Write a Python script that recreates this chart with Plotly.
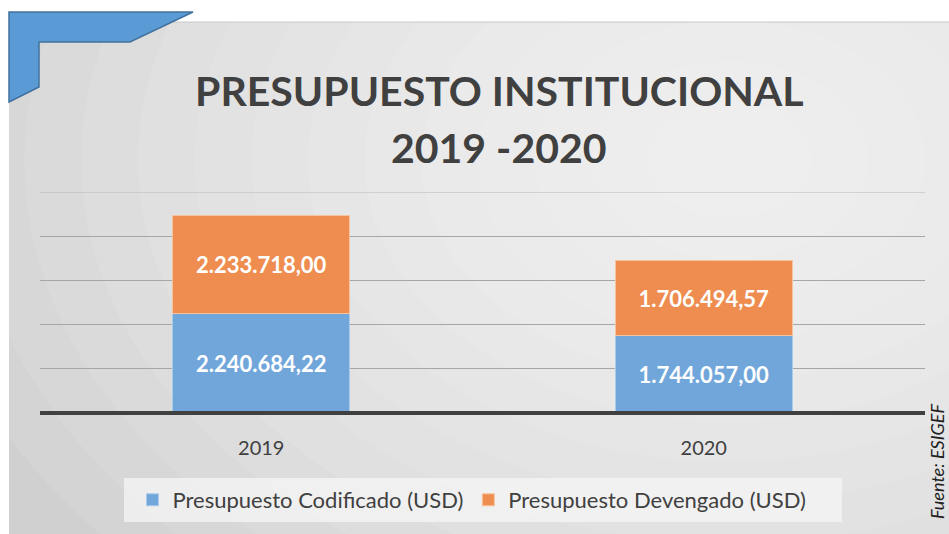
import plotly.graph_objects as go

years = ["2019", "2020"]
codificado = [2240684.22, 1744057.00]
devengado = [2233718.00, 1706494.57]
series_names = ["Presupuesto Codificado (USD)", "Presupuesto Devengado (USD)"]
y_ticks = [0, 1000000, 2000000, 3000000, 4000000, 5000000]
title_lines = ["PRESUPUESTO INSTITUCIONAL", "2019 -2020"]
source_text = "Fuente: ESIGEF"

W, H = 949, 534
L, R, T, B = 40, 925, 192, 413


def fmt_es(v):
    s = f"{v:,.2f}"
    return s.replace(",", "X").replace(".", ",").replace("X", ".")


def px(x):
    return (x - L) / (R - L)


def py(y):
    return (B - y) / (B - T)


FONT = "Lato, 'Open Sans', sans-serif"

fig = go.Figure()
fig.add_trace(go.Bar(
    x=years, y=codificado, name=series_names[0],
    marker=dict(color="#70a6da", line=dict(color="#a9cbec", width=1)),
    text=[fmt_es(v) for v in codificado], textposition="inside",
    insidetextanchor="middle",
    textfont=dict(family=FONT, size=22, color="white", weight="bold"),
))
fig.add_trace(go.Bar(
    x=years, y=devengado, name=series_names[1],
    marker=dict(color="#ee8d4f", line=dict(color="#f6c3a0", width=1)),
    text=[fmt_es(v) for v in devengado], textposition="inside",
    insidetextanchor="middle",
    textfont=dict(family=FONT, size=22, color="white", weight="bold"),
))

shapes = []
# gray card background
shapes.append(dict(type="rect", xref="paper", yref="paper",
                   x0=px(9), x1=px(W + 5), y0=py(22), y1=py(H + 5),
                   fillcolor="#d0d0d0", line=dict(width=0), layer="below"))
# radial gradient approximation
cx, cy = 730, 160
for i in range(14):
    r = 780 - i * 54
    shapes.append(dict(type="circle", xref="paper", yref="paper",
                       x0=px(cx - r * 1.05), x1=px(cx + r * 1.05),
                       y0=py(cy + r * 0.75), y1=py(cy - r * 0.75),
                       fillcolor="white", opacity=0.09, line=dict(width=0),
                       layer="below"))
# top border line
shapes.append(dict(type="line", xref="paper", yref="paper",
                   x0=px(9), x1=px(W), y0=py(22), y1=py(22),
                   line=dict(color="#c8c8c8", width=1)))
# legend box background
shapes.append(dict(type="rect", xref="paper", yref="paper",
                   x0=px(124), x1=px(842), y0=py(478), y1=py(522),
                   fillcolor="rgba(245,245,245,0.75)", line=dict(width=0),
                   layer="below"))
# blue corner decoration
pts = [(9, 12), (193, 12), (130, 42), (39, 42), (39, 87), (9, 102)]
path = "M " + " L ".join(f"{px(x)},{py(y)}" for x, y in pts) + " Z"
shapes.append(dict(type="path", xref="paper", yref="paper", path=path,
                   fillcolor="#5b9bd5", line=dict(color="#41719c", width=1.5)))
# top gridline (at axis max)
shapes.append(dict(type="line", xref="paper", yref="y",
                   x0=0, x1=1, y0=y_ticks[-1], y1=y_ticks[-1],
                   line=dict(color="#b8b8b8", width=1), layer="below"))
# baseline
shapes.append(dict(type="line", xref="paper", yref="paper",
                   x0=0, x1=1, y0=0, y1=0,
                   line=dict(color="#404040", width=4)))

annotations = [
    dict(text=f"<b>{title_lines[0]}</b>", xref="paper", yref="paper",
         x=px(499), y=py(90), showarrow=False, xanchor="center", yanchor="middle",
         font=dict(family=FONT, size=41, color="#404040")),
    dict(text=f"<b>{title_lines[1]}</b>", xref="paper", yref="paper",
         x=px(499), y=py(147), showarrow=False, xanchor="center", yanchor="middle",
         font=dict(family=FONT, size=41, color="#404040")),
    dict(text=f"<i>{source_text}</i>", xref="paper", yref="paper",
         x=px(937), y=py(462), showarrow=False, textangle=-90,
         xanchor="center", yanchor="middle",
         font=dict(family=FONT, size=18, color="#202020")),
]

fig.update_layout(
    width=W, height=H,
    margin=dict(l=L, r=W - R, t=T, b=H - B, pad=0),
    paper_bgcolor="white", plot_bgcolor="rgba(0,0,0,0)",
    barmode="stack", bargap=0.6,
    showlegend=True,
    legend=dict(orientation="h", x=px(472), y=py(500), xanchor="center",
                yanchor="middle", font=dict(family=FONT, size=22, color="#404040"),
                bgcolor="rgba(0,0,0,0)", traceorder="normal", itemwidth=30),
    shapes=shapes, annotations=annotations,
    xaxis=dict(showgrid=False, showline=False, ticks="outside", ticklen=17,
               tickcolor="rgba(0,0,0,0)",
               tickfont=dict(family=FONT, size=20, color="#404040")),
    yaxis=dict(range=[0, 5000000], tickvals=y_ticks, showticklabels=False,
               showgrid=True, gridcolor="#a6a6a6", gridwidth=1,
               zeroline=False, showline=False),
)

fig.write_html("out.html", config={"displayModeBar": False},
               post_script="document.body.style.margin='0';document.body.style.overflow='hidden';")
